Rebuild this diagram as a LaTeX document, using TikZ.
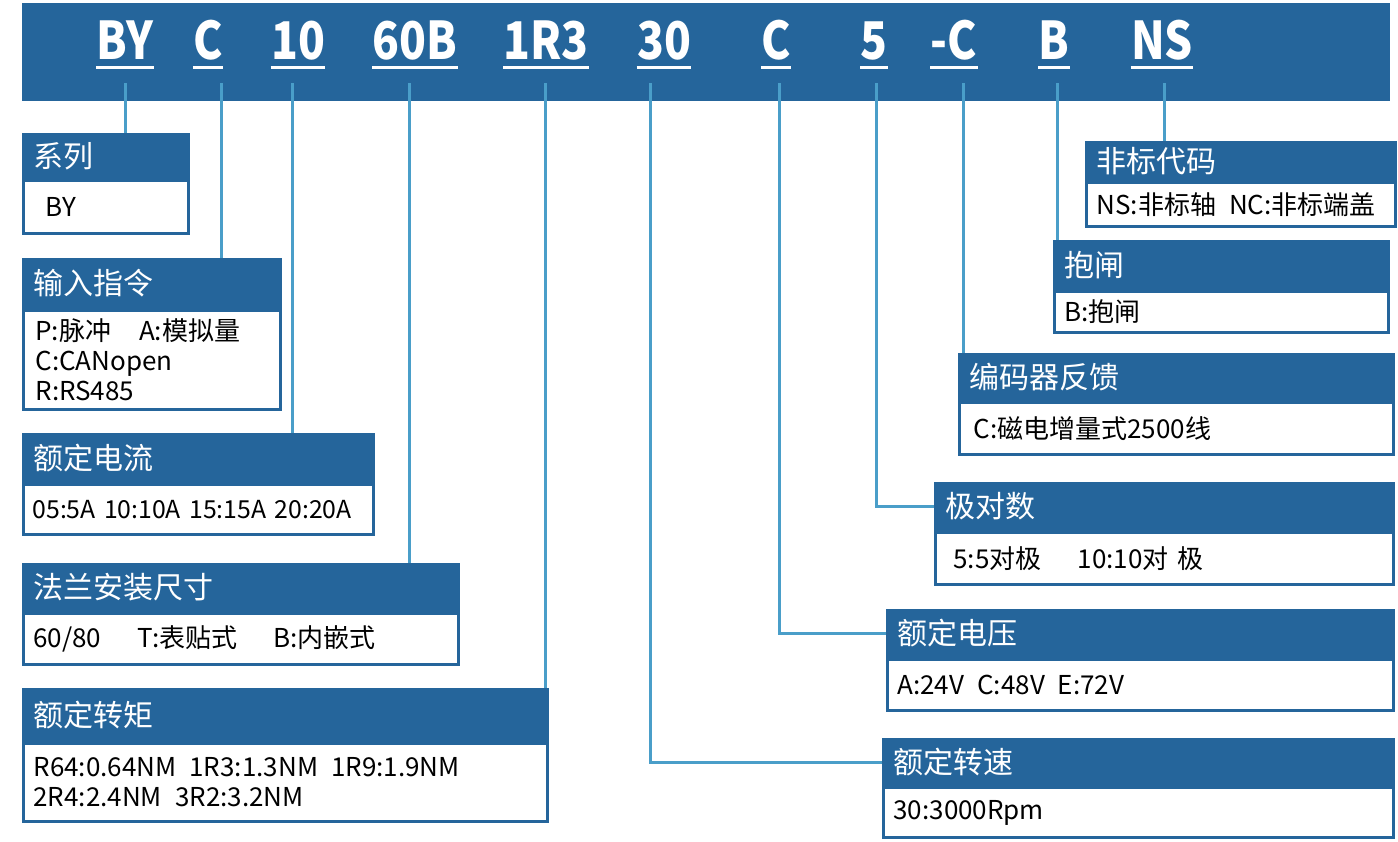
\documentclass[tikz,border=0pt]{standalone}
\usepackage{fontspec}
\usepackage{tikz}
\usetikzlibrary{positioning}
\setmainfont{Noto Sans CJK SC}
\newfontfamily\codefont[FakeStretch=0.85]{Noto Sans CJK SC}
\definecolor{yd_darkblue}{RGB}{37,101,155}
\definecolor{yd_lineblue}{RGB}{74,158,201}
\colorlet{ydblue}{yd_darkblue}
\colorlet{ylblue}{yd_lineblue}
\tikzset{
  codebar/.style={fill=ydblue,inner sep=0pt,anchor=north west},
  codetext/.style={text=white,font=\codefont\bfseries\fontsize{26}{26}\selectfont,inner sep=0pt,anchor=base,
    append after command={([yshift=-4pt]\tikzlastnode.base west) edge[draw=white,line width=1.5pt]
      ([yshift=-4pt]\tikzlastnode.base east)}},
  headbox/.style={fill=ydblue,draw=ydblue,line width=1.5pt,text=white,anchor=north west,
    font=\fontsize{15}{18}\selectfont,inner xsep=5pt,inner ysep=0pt,align=left,text width=#1},
  bodybox/.style={fill=white,draw=ydblue,line width=1.5pt,text=black,
    font=\fontsize{13}{15}\selectfont,inner xsep=5pt,inner ysep=0pt,align=left,text width=#1},
  link/.style={draw=ylblue,line width=1.5pt},
}

\begin{document}
\begin{tikzpicture}[x=0.5pt,y=-0.5pt]
	\useasboundingbox (0,0) rectangle (1398,841);
	\node[codebar,minimum width=684pt,minimum height=49pt] (bar) at (22,3) {};
	% type code
	\node[codetext] (cBY) at (125,59) {BY};
	\node[codetext] (cCmd) at (208,59) {C};
	\node[codetext] (cCur) at (298,59) {10};
	\node[codetext] (cFl) at (415,59) {60B};
	\node[codetext] (cTq) at (546,59) {1R3};
	\node[codetext] (cSp) at (664,59) {30};
	\node[codetext] (cVo) at (776,59) {C};
	\node[codetext] (cPo) at (874,59) {5};
	\node[codetext] (cEn) at (954,59) {-C};
	\node[codetext] (cBr) at (1054,59) {B};
	\node[codetext] (cNS) at (1162,59) {NS};
	\coordinate (tBY) at (125,83);
	\coordinate (tCmd) at (221,83);
	\coordinate (tCur) at (292,83);
	\coordinate (tFl) at (409,83);
	\coordinate (tTq) at (545,83);
	\coordinate (tSp) at (650,83);
	\coordinate (tVo) at (779,83);
	\coordinate (tPo) at (876,83);
	\coordinate (tEn) at (963,83);
	\coordinate (tBr) at (1057,83);
	\coordinate (tNS) at (1164,83);
	% left column
	\node[headbox=72.5pt,minimum height=21.5pt] (hSeries) at (22,133) {系列};
	\node[bodybox=72.5pt,minimum height=26.5pt,below=0pt of hSeries] (bSeries) {\hspace*{6pt}BY};
	\node[headbox=118.5pt,minimum height=24pt] (hCmd) at (22,258) {输入指令};
	\node[bodybox=118.5pt,minimum height=49.5pt,below=0pt of hCmd] (bCmd)
		{\hspace*{1pt}P:脉冲\hspace{14pt}A:模拟量\\\hspace*{1pt}C:CANopen\\\hspace*{1pt}R:RS485};
	\node[headbox=165pt,minimum height=23.5pt] (hCur) at (22,433) {额定电流};
	\node[bodybox=166pt,minimum height=25pt,below=0pt of hCur,inner xsep=4.5pt,
		font=\fontsize{12.4}{15}\selectfont] (bCur) {05:5A 10:10A 15:15A 20:20A};
	\node[headbox=207.5pt,minimum height=23pt] (hFl) at (22,563) {法兰安装尺寸};
	\node[bodybox=207.5pt,minimum height=25.5pt,below=0pt of hFl] (bFl)
		{60/80\hspace{18pt}T:表贴式\hspace{18pt}B:内嵌式};
	\node[headbox=252pt,minimum height=25.5pt] (hTq) at (22,688) {额定转矩};
	\node[bodybox=252pt,minimum height=39pt,below=0pt of hTq] (bTq)
		{R64:0.64NM\enspace 1R3:1.3NM\enspace 1R9:1.9NM\\2R4:2.4NM\enspace 3R2:3.2NM};
	% right column
	\node[headbox=144.5pt,minimum height=18.5pt] (hNS) at (1085,141) {非标代码};
	\node[bodybox=144.5pt,minimum height=22pt,below=0pt of hNS] (bNS) {NS:非标轴\enspace NC:非标端盖};
	\node[headbox=157pt,minimum height=23.5pt] (hBr) at (1053,240) {抱闸};
	\node[bodybox=157pt,minimum height=20.5pt,below=0pt of hBr] (bBr) {B:抱闸};
	\node[headbox=207pt,minimum height=22.5pt] (hEn) at (958,353) {编码器反馈};
	\node[bodybox=207pt,minimum height=26pt,below=0pt of hEn] (bEn) {\hspace*{2pt}C:磁电增量式2500线};
	\node[headbox=219pt,minimum height=23pt] (hPo) at (934,482) {极对数};
	\node[bodybox=219pt,minimum height=26pt,below=0pt of hPo] (bPo) {\hspace*{4pt}5:5对极\hspace{18pt}10:10对 极};
	\node[headbox=243pt,minimum height=23pt] (hVo) at (886,609) {额定电压};
	\node[bodybox=243pt,minimum height=25.5pt,below=0pt of hVo] (bVo) {A:24V\enspace C:48V\enspace E:72V};
	\node[headbox=245pt,minimum height=22.5pt] (hSp) at (882,738) {额定转速};
	\node[bodybox=245pt,minimum height=25pt,below=0pt of hSp] (bSp) {30:3000Rpm};
	% leaders
	\draw[link] (tBY) -- (tBY |- hSeries.north);
	\draw[link] (tCmd) -- (tCmd |- hCmd.north);
	\draw[link] (tCur) -- (tCur |- hCur.north);
	\draw[link] (tFl) -- (tFl |- hFl.north);
	\draw[link] (tTq) -- (tTq |- hTq.north);
	\draw[link] (tSp) |- (hSp.west);
	\draw[link] (tVo) |- (hVo.west);
	\draw[link] (tPo) |- (hPo.west);
	\draw[link] (tEn) -- (tEn |- hEn.north);
	\draw[link] (tBr) -- (tBr |- hBr.north);
	\draw[link] (tNS) -- (tNS |- hNS.north);
\end{tikzpicture}
\end{document}
